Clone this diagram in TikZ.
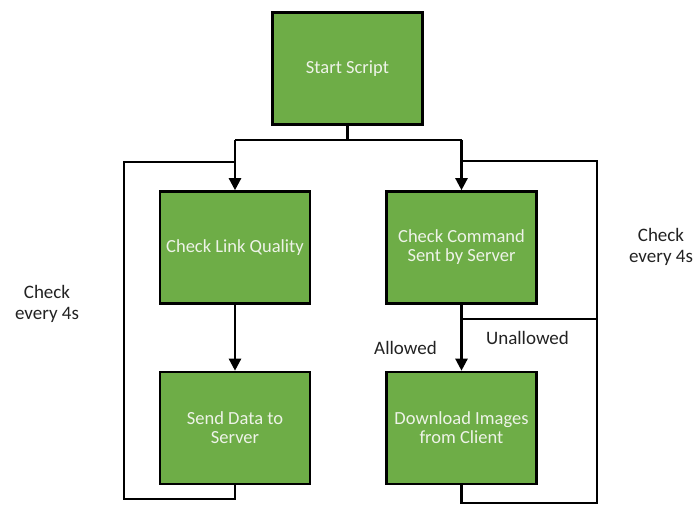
\documentclass[tikz,border=0pt]{standalone}
\usepackage{fontspec}
\setmainfont{Carlito}
\usetikzlibrary{arrows.meta}
\definecolor{boxgreen}{HTML}{6EAD47}
\definecolor{boxtext}{HTML}{EEF3E8}
\definecolor{labeltext}{HTML}{222222}
\tikzset{
  stepbox/.style={draw=black, line width=2.6pt, fill=boxgreen, text=boxtext,
    minimum width=150pt, minimum height=112pt, inner sep=2pt,
    align=center, font=\fontsize{18.5}{19}\selectfont},
  flow/.style={line width=2.4pt, draw=black},
  arr/.style={flow, -{Triangle[width=12pt,length=12pt]}},
  note/.style={text=labeltext, align=center, font=\fontsize{19}{21}\selectfont}
}
\begin{document}
\begin{tikzpicture}[x=1pt,y=-1pt]
  \useasboundingbox (0,0) rectangle (693,505);

  % process steps
  \node[stepbox] (start) at (347.5,68.5) {Start Script};
  \node[stepbox] (link)  at (235,247.5) {Check Link Quality};
  \node[stepbox] (send)  at (235,428) {Send Data to\\Server};
  \node[stepbox] (cmd)   at (461.5,247.5) {Check Command\\Sent by Server};
  \node[stepbox] (dl)    at (461.5,428) {Download Images\\from Client};

  % junction and loop corners
  \coordinate (jL) at (235,140);
  \coordinate (jR) at (461.5,140);
  \coordinate (lt) at (124,162);
  \coordinate (lb) at (124,499);
  \coordinate (rt) at (597,161);
  \coordinate (rb) at (597,503);
  \coordinate (un) at (597,319);

  % split after start
  \draw[flow] (start.south) -- (start.south |- jL);
  \draw[flow] (jL) -- (jR);
  \draw[arr] (jL) -- (link.north);
  \draw[arr] (jR) -- (cmd.north);

  % left branch
  \draw[arr] (link.south) -- (send.north);
  \draw[flow] (send.south) |- (lb) -- (lt) -- (lt -| link.north);

  % right branch
  \draw[arr] (cmd.south) -- (dl.north);
  \draw[flow] (cmd.south |- un) -- (un);
  \draw[flow] (dl.south) |- (rb) -- (rt) -- (rt -| cmd.north);

  % labels
  \node[note] (leftnote)  at (47,304) {Check\\every 4s};
  \node[note] (rightnote) at (661,247) {Check\\every 4s};
  \node[note] (allowed)   at (405.5,348) {Allowed};
  \node[note] (unallowed) at (527.5,338) {Unallowed};
\end{tikzpicture}
\end{document}
